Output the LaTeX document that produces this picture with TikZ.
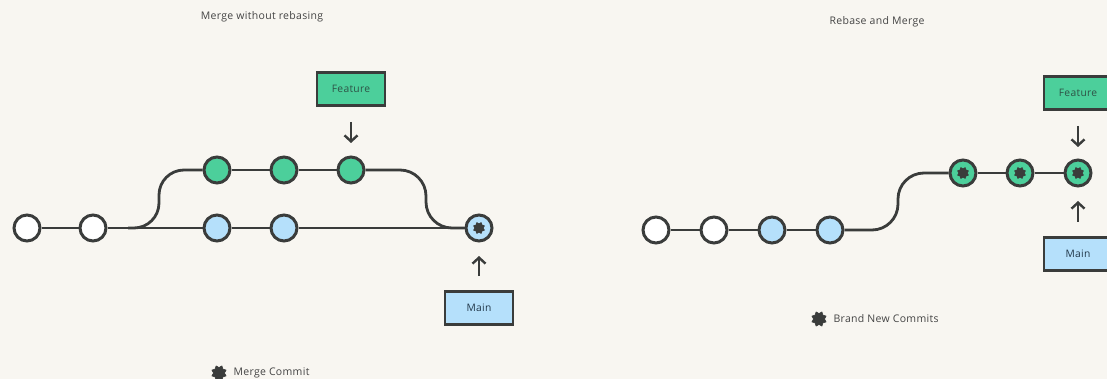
\documentclass[tikz,border=0pt]{standalone}
\usepackage{fontspec}
\setmainfont{Open Sans}[LetterSpace=3]
\usetikzlibrary{shapes.geometric,arrows.meta}
\definecolor{bgcol}{HTML}{F8F6F1}
\definecolor{ink}{HTML}{3A3C3B}
\definecolor{featfill}{HTML}{4CCF9B}
\definecolor{mainfill}{HTML}{B5E0FB}
\definecolor{feattext}{HTML}{2E5346}
\definecolor{maintext}{HTML}{22384A}
\definecolor{captext}{HTML}{444444}
\tikzset{
  commit/.style={circle, draw=ink, line width=3pt, minimum size=26pt, inner sep=0pt},
  oldc/.style={commit, fill=white},
  featc/.style={commit, fill=featfill},
  mainc/.style={commit, fill=mainfill},
  branchbox/.style={rectangle, draw=ink, line width=2.6pt, minimum width=68pt, minimum height=33pt, inner sep=0pt, font=\fontsize{10.3}{12}\selectfont},
  featbox/.style={branchbox, fill=featfill, text=feattext},
  mainbox/.style={branchbox, fill=mainfill, text=maintext},
  edge/.style={draw=ink, line width=2.8pt},
  pointer/.style={draw=ink, line width=2.4pt, -{Straight Barb[length=6pt, width=13pt, line width=2.4pt]}},
  mark/.style={star, star points=8, star point ratio=0.72, fill=ink, draw=ink, line width=0.6pt, line join=round, inner sep=0pt, minimum size=#1},
  mark/.default=9pt,
  caption/.style={text=captext, font=\fontsize{10.5}{12}\selectfont},
}
\begin{document}
\begin{tikzpicture}[x=1pt, y=-1pt]
  \fill[bgcol] (0,0) rectangle (1107,379);
  \useasboundingbox (0,0) rectangle (1107,379);

  % ---------- Merge without rebasing ----------
  \node[caption] (titleA) at (262,17) {Merge without rebasing};

  \coordinate (forkA) at (128,228);

  \node[oldc]  (a1) at (27,228) {};
  \node[oldc]  (a2) at (93,228) {};
  \node[mainc] (b1) at (217,228) {};
  \node[mainc] (b2) at (284,228) {};
  \node[featc] (f1) at (217,170) {};
  \node[featc] (f2) at (284,170) {};
  \node[featc] (f3) at (351,170) {};
  \node[mainc] (mA) at (479,228) {};
  \node[mark=8.5pt] (mAstar) at (mA) {};

  \draw[edge] (a1) -- (a2);
  \draw[edge] (a2) -- (b1);
  \draw[edge] (b1) -- (b2);
  \draw[edge] (b2) -- (mA);
  \draw[edge] (f1) -- (f2);
  \draw[edge] (f2) -- (f3);
  \draw[edge, rounded corners=25pt] (forkA) -- (159,228) -- (159,170) -- (f1.west);
  \draw[edge, rounded corners=26pt] (f3.east) -- (426,170) -- (426,228) -- (mA.west);

  \node[featbox] (featA) at (351,89) {Feature};
  \node[mainbox] (mainA) at (479,308) {Main};
  \coordinate (pfA1) at (351,122);
  \coordinate (pfA2) at (351,143);
  \coordinate (pmA1) at (479,276);
  \coordinate (pmA2) at (479,256);
  \draw[pointer] (pfA1) -- (pfA2);
  \draw[pointer] (pmA1) -- (pmA2);

  \node[mark=11pt] (legA) at (219,373) {};
  \node[caption, anchor=west] (legAtext) at (230,373) {Merge Commit};

  % ---------- Rebase and Merge ----------
  \node[caption] (titleB) at (877,22) {Rebase and Merge};

  \node[oldc]  (c1) at (656,230) {};
  \node[oldc]  (c2) at (714,230) {};
  \node[mainc] (c3) at (772,230) {};
  \node[mainc] (c4) at (830,230) {};
  \node[featc] (n1) at (963,173) {};
  \node[featc] (n2) at (1020,173) {};
  \node[featc] (n3) at (1078,173) {};
  \node[mark=8.5pt] (n1s) at (n1) {};
  \node[mark=8.5pt] (n2s) at (n2) {};
  \node[mark=8.5pt] (n3s) at (n3) {};

  \draw[edge] (c1) -- (c2);
  \draw[edge] (c2) -- (c3);
  \draw[edge] (c3) -- (c4);
  \draw[edge, rounded corners=26pt] (c4.east) -- (898,230) -- (898,173) -- (n1.west);
  \draw[edge] (n1) -- (n2);
  \draw[edge] (n2) -- (n3);

  \node[featbox] (featB) at (1078,93) {Feature};
  \node[mainbox] (mainB) at (1078,254) {Main};
  \coordinate (pfB1) at (1078,126);
  \coordinate (pfB2) at (1078,147);
  \coordinate (pmB1) at (1078,222);
  \coordinate (pmB2) at (1078,201);
  \draw[pointer] (pfB1) -- (pfB2);
  \draw[pointer] (pmB1) -- (pmB2);

  \node[mark=11pt] (legB) at (819,319) {};
  \node[caption, anchor=west] (legBtext) at (830,319) {Brand New Commits};
\end{tikzpicture}
\end{document}
